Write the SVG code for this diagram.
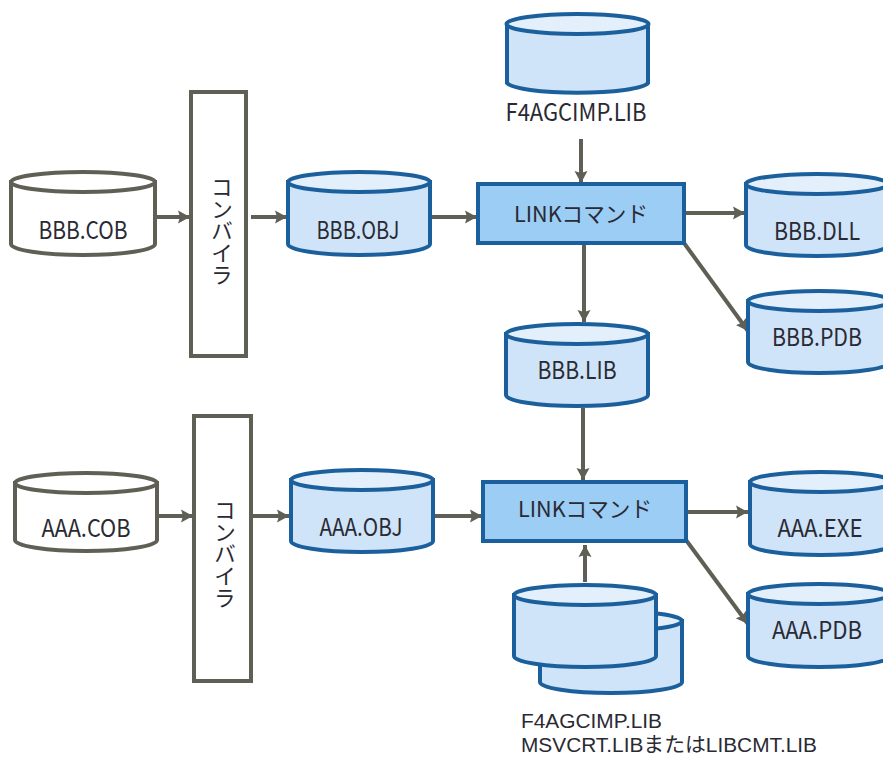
<svg xmlns="http://www.w3.org/2000/svg" width="883" height="758" viewBox="0 0 883 758">
<style>
text{font-family:"Noto Sans CJK JP","Noto Sans",sans-serif;font-size:24px;fill:#2a2a33}
.m{text-anchor:middle}
.s{font-family:"Liberation Sans","Noto Sans CJK JP",sans-serif;font-size:20.500px}
.g{fill:#fff;stroke:#5f5f55;stroke-width:4}
.b{fill:#cfe4f9;stroke:#1b5f9c;stroke-width:4}
.t{fill:#e3f0fc;stroke:#1b5f9c;stroke-width:4}
.l{fill:#9ccdf5;stroke:#1b5f9c;stroke-width:4}
.r{fill:#fff;stroke:#5f5f55;stroke-width:4}
.c{fill:none;stroke:#5f5f55;stroke-width:4;marker-end:url(#a)}
.v{writing-mode:vertical-rl;font-size:22px}
</style>
<defs>
<marker id="a" markerUnits="userSpaceOnUse" markerWidth="14" markerHeight="14" refX="12" refY="7" orient="auto">
<path d="M0,0.500 L12,7 L0,13.500 L2,7 Z" fill="#5f5f55"/>
</marker>
</defs>
<g id="connectors">
<path class="c" d="M155,217H190"/>
<path class="c" d="M251,217H287"/>
<path class="c" d="M431,217H477"/>
<path class="c" d="M581,139V183"/>
<path class="c" d="M685,213H745"/>
<path class="c" d="M684,243L748,331"/>
<path class="c" d="M584,244V322"/>
<path class="c" d="M583,408V480"/>
<path class="c" d="M157,516H193"/>
<path class="c" d="M252,516H289"/>
<path class="c" d="M435,516H482"/>
<path class="c" d="M687,512H748"/>
<path class="c" d="M686,540L748,624"/>
<path class="c" d="M585,582V545"/>
</g>
<g id="f4agcimp-top"><path class="b" d="M507,24V83A71,11 0 0 0 648,83V24Z"/><ellipse class="t" cx="577.500" cy="24" rx="71" ry="10"/><text x="576" y="121" class="m" textLength="141" lengthAdjust="spacingAndGlyphs">F4AGCIMP.LIB</text></g>
<g id="bbb-cob"><path class="g" d="M11,182V244A72,11 0 0 0 155,244V182Z"/><ellipse class="g" cx="83" cy="182" rx="72" ry="10"/><text x="83" y="239" class="m" textLength="89" lengthAdjust="spacingAndGlyphs">BBB.COB</text></g>
<g id="compiler-bbb"><rect class="r" x="191" y="92" width="55" height="264"/><text x="222" y="176" class="v">コンバイラ</text></g>
<g id="bbb-obj"><path class="b" d="M288,182V244A71,11 0 0 0 430,244V182Z"/><ellipse class="t" cx="359" cy="182" rx="71" ry="10"/><text x="358" y="239" class="m" textLength="83" lengthAdjust="spacingAndGlyphs">BBB.OBJ</text></g>
<g id="link-bbb"><rect class="l" x="478" y="184" width="206" height="59"/><text x="581" y="222" class="m" textLength="134" lengthAdjust="spacingAndGlyphs" style="font-size:22px">LINKコマンド</text></g>
<g id="bbb-dll"><path class="b" d="M746,184V245A71,11 0 0 0 888,245V184Z"/><ellipse class="t" cx="817" cy="184" rx="71" ry="10"/><text x="817" y="240" class="m" textLength="86" lengthAdjust="spacingAndGlyphs">BBB.DLL</text></g>
<g id="bbb-pdb"><path class="b" d="M748,301V362A71,11 0 0 0 890,362V301Z"/><ellipse class="t" cx="819" cy="301" rx="71" ry="10"/><text x="817" y="346" class="m" textLength="90" lengthAdjust="spacingAndGlyphs">BBB.PDB</text></g>
<g id="bbb-lib"><path class="b" d="M506,334V395A71,11 0 0 0 648,395V334Z"/><ellipse class="t" cx="577" cy="334" rx="71" ry="10"/><text x="577" y="379" class="m" textLength="79" lengthAdjust="spacingAndGlyphs">BBB.LIB</text></g>
<g id="aaa-cob"><path class="g" d="M15,483V540A71,11 0 0 0 157,540V483Z"/><ellipse class="g" cx="86" cy="483" rx="71" ry="10"/><text x="86" y="537" class="m" textLength="89" lengthAdjust="spacingAndGlyphs">AAA.COB</text></g>
<g id="compiler-aaa"><rect class="r" x="194" y="416" width="57" height="265"/><text x="225" y="499" class="v">コンバイラ</text></g>
<g id="aaa-obj"><path class="b" d="M291,480V541A71,11 0 0 0 433,541V480Z"/><ellipse class="t" cx="362" cy="480" rx="71" ry="10"/><text x="361" y="536" class="m" textLength="83" lengthAdjust="spacingAndGlyphs">AAA.OBJ</text></g>
<g id="link-aaa"><rect class="l" x="483" y="482" width="203" height="59"/><text x="585" y="517" class="m" textLength="134" lengthAdjust="spacingAndGlyphs" style="font-size:22px">LINKコマンド</text></g>
<g id="aaa-exe"><path class="b" d="M750,482V544A71,11 0 0 0 892,544V482Z"/><ellipse class="t" cx="821" cy="482" rx="71" ry="10"/><text x="820" y="537" class="m" textLength="85" lengthAdjust="spacingAndGlyphs">AAA.EXE</text></g>
<g id="aaa-pdb"><path class="b" d="M748,594V656A71,11 0 0 0 890,656V594Z"/><ellipse class="t" cx="819" cy="594" rx="71" ry="10"/><text x="817" y="639" class="m" textLength="90" lengthAdjust="spacingAndGlyphs">AAA.PDB</text></g>
<g id="libs-stack"><path class="b" d="M540,621V682A71,11 0 0 0 682,682V621Z"/><ellipse class="t" cx="611" cy="621" rx="71" ry="10"/><path class="b" d="M514,595V656A71,11 0 0 0 656,656V595Z"/><ellipse class="t" cx="585" cy="595" rx="71" ry="10"/><text x="521" y="728" class="s" textLength="141" lengthAdjust="spacingAndGlyphs">F4AGCIMP.LIB</text><text x="521" y="752" class="s" textLength="296" lengthAdjust="spacingAndGlyphs">MSVCRT.LIBまたはLIBCMT.LIB</text></g>
</svg>
